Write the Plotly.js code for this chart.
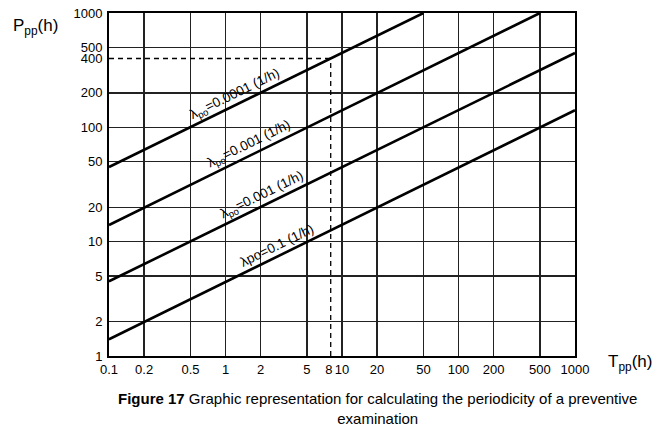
<!DOCTYPE html>
<html>
<head>
<meta charset="utf-8">
<script src="https://cdn.plot.ly/plotly-3.0.1.min.js"></script>
<style>html,body{margin:0;padding:0;background:#fff;}#chart{width:656px;height:431px;}</style>
</head>
<body>
<div id="chart"></div>
<script>
// Line endpoints (T in h, P in h)
const T_lambda01 = [0.1, 1000];
const P_lambda01 = [1.4, 141];
const T_lambda001 = [0.1, 1000];
const P_lambda001 = [4.5, 447];
const T_lambda0001 = [0.1, 500];
const P_lambda0001 = [14, 1000];
const T_lambda00001 = [0.1, 50];
const P_lambda00001 = [45, 1000];

// Dashed reading guide
const guideVertT = [8, 8];
const guideVertP = [1, 400];
const guideHorT = [0.1, 8];
const guideHorP = [400, 400];

// Tick labels and grid values
const xTickVals = [0.1, 0.2, 0.5, 1, 2, 5, 8, 10, 20, 50, 100, 200, 500, 1000];
const xTickText = ["0.1", "0.2", "0.5", "1", "2", "5", "8 ", "10", "20", "50", "100", "200", "500", "1000"];
const xGridVals = [0.2, 0.5, 1, 2, 5, 10, 20, 50, 100, 200, 500];
const yTickVals = [1, 2, 5, 10, 20, 50, 100, 200, 400, 500, 1000];
const yTickText = ["1", "2", "5", "10", "20", "50", "100", "200", "400", "500", "1000"];
const yGridVals = [2, 5, 10, 20, 50, 100, 200, 500];

const lineLabels = [
  "λ<sub>po</sub>=0.0001 (1/h)",
  "λ<sub>po</sub>=0.001 (1/h)",
  "λ<sub>po</sub>=0.001 (1/h)",
  "λpo=0.1 (1/h)"
];

const font = "Arial";
const lineStyle = {color: "#000", width: 2.6};
const dashStyle = {color: "#000", width: 1.3, dash: "5px,4px"};

const traces = [
  {x: T_lambda01, y: P_lambda01, mode: "lines", line: lineStyle, hoverinfo: "skip"},
  {x: T_lambda001, y: P_lambda001, mode: "lines", line: lineStyle, hoverinfo: "skip"},
  {x: T_lambda0001, y: P_lambda0001, mode: "lines", line: lineStyle, hoverinfo: "skip"},
  {x: T_lambda00001, y: P_lambda00001, mode: "lines", line: lineStyle, hoverinfo: "skip"},
  {x: guideVertT, y: guideVertP, mode: "lines", line: dashStyle, hoverinfo: "skip"},
  {x: guideHorT, y: guideHorP, mode: "lines", line: dashStyle, hoverinfo: "skip"}
];

// label anchor points (log10 coordinates, on the lines)
const labelPos = [
  [0.115, 2.209],
  [0.235, 1.768],
  [0.346, 1.323],
  [0.475, 0.888]
];

const annotations = lineLabels.map((t, i) => ({
  x: labelPos[i][0], y: labelPos[i][1], xref: "x", yref: "y",
  xanchor: "center", yanchor: "middle",
  text: t, showarrow: false, textangle: -26.1,
  xshift: -4, yshift: 9,
  font: {family: font, size: 13.5, color: "#000"}
}));

annotations.push({
  xref: "paper", yref: "paper", x: -0.157, y: 0.96, xanchor: "center", yanchor: "middle",
  text: "P<sub>pp</sub>(h)", showarrow: false,
  font: {family: font, size: 17, color: "#000"}
});
annotations.push({
  xref: "paper", yref: "paper", x: 1.118, y: -0.02, xanchor: "center", yanchor: "middle",
  text: "T<sub>pp</sub>(h)", showarrow: false,
  font: {family: font, size: 17, color: "#000"}
});
annotations.push({
  xref: "paper", yref: "paper", x: 0.576, y: -0.093, xanchor: "center", yanchor: "top",
  text: "<b>Figure 17</b> Graphic representation for calculating the periodicity of a preventive<br>examination",
  showarrow: false, align: "center",
  font: {family: font, size: 15, color: "#000"}
});

const layout = {
  width: 656, height: 431,
  margin: {l: 109, r: 81, t: 13, b: 75},
  paper_bgcolor: "#fff", plot_bgcolor: "#fff",
  showlegend: false,
  font: {family: font, size: 13, color: "#000"},
  xaxis: {
    type: "log", range: [-1, 3],
    tickmode: "array", tickvals: xTickVals, ticktext: xTickText, tickangle: 0,
    showgrid: false, zeroline: false, automargin: false,
    showline: true, mirror: true, linecolor: "#000", linewidth: 2,
    ticks: "", tickfont: {family: font, size: 13, color: "#000"},
    minor: {tickmode: "array", tickvals: xGridVals, showgrid: true, gridcolor: "#222", gridwidth: 1.4, ticks: ""}
  },
  yaxis: {
    type: "log", range: [0, 3],
    tickmode: "array", tickvals: yTickVals, ticktext: yTickText,
    showgrid: false, zeroline: false, automargin: false,
    showline: true, mirror: true, linecolor: "#000", linewidth: 2,
    ticks: "", ticklabelstandoff: 2, tickfont: {family: font, size: 13, color: "#000"},
    minor: {tickmode: "array", tickvals: yGridVals, showgrid: true, gridcolor: "#222", gridwidth: 1.4, ticks: ""}
  },
  annotations: annotations
};

Plotly.newPlot("chart", traces, layout, {staticPlot: true, displayModeBar: false});
</script>
</body>
</html>
